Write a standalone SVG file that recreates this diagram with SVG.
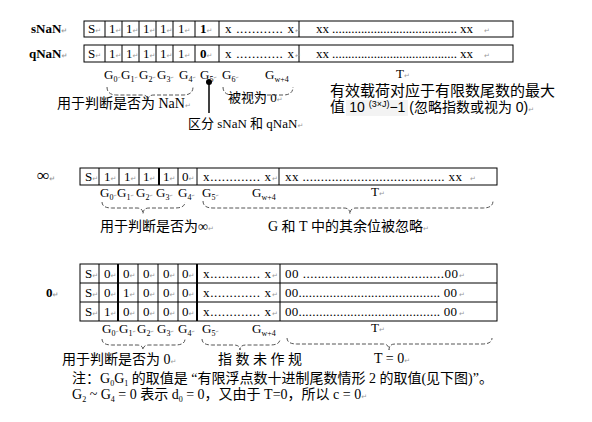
<svg xmlns="http://www.w3.org/2000/svg" width="592" height="422" viewBox="0 0 592 422">
<style>
.box{fill:#fff;stroke:#000;stroke-width:1}
.ln{stroke:#000;stroke-width:1}
.thk{stroke:#000;stroke-width:2}
.c{font-family:"Liberation Serif",serif;font-size:13px;fill:#000}
.b{font-weight:bold}
.mk{font-family:"DejaVu Sans",sans-serif;font-size:7px;fill:#999}
.gm{font-family:"DejaVu Sans",sans-serif;font-size:4px;fill:#999}
.sub{font-size:8px}
.cj{font-family:"Liberation Serif","Noto Sans CJK SC",sans-serif;font-size:14px;fill:#000}
.cs{font-family:"Liberation Sans","Noto Sans CJK SC",sans-serif;font-size:15px;fill:#000}
.br{fill:none;stroke:#555;stroke-width:1;stroke-dasharray:4 2}
</style>
<rect width="592" height="422" fill="#fff"/>

<g id="label-snan"><text x="31" y="33" class="c b">sNaN<tspan class="mk">↵</tspan></text></g>
<g id="label-qnan"><text x="29" y="58" class="c b">qNaN<tspan class="mk">↵</tspan></text></g>
<g id="label-inf"><text x="37" y="181" class="c b" style="font-size:17px">∞<tspan class="mk">↵</tspan></text></g>
<g id="label-zero"><text x="46" y="297" class="c b">0<tspan class="mk">↵</tspan></text></g>

<g id="row-snan">
<rect x="84" y="21" width="429" height="16" class="box"/>
<path class="ln" d="M105 21V37M122 21V37M139 21V37M156 21V37M173 21V37M195 21V37M219 21V37M299 21V37"/>
<text y="33" class="c"><tspan x="88">S</tspan><tspan class="mk">↵</tspan><tspan x="109">1</tspan><tspan class="mk">↵</tspan><tspan x="126">1</tspan><tspan class="mk">↵</tspan><tspan x="143">1</tspan><tspan class="mk">↵</tspan><tspan x="160">1</tspan><tspan class="mk">↵</tspan><tspan x="178">1</tspan><tspan class="mk">↵</tspan><tspan x="200" class="b">1</tspan><tspan class="mk">↵</tspan></text>
<text x="225" y="33" class="c" textLength="69" lengthAdjust="spacing">x ............ x</text><text x="295" y="33" class="mk">↵</text>
<text x="316" y="33" class="c" textLength="157" lengthAdjust="spacing">xx ....................................... xx</text><text x="484" y="33" class="mk">↵</text>
</g>

<g id="row-qnan">
<rect x="84" y="45" width="429" height="17" class="box"/>
<path class="ln" d="M105 45V62M122 45V62M139 45V62M156 45V62M173 45V62M195 45V62M219 45V62M299 45V62"/>
<text y="58" class="c"><tspan x="88">S</tspan><tspan class="mk">↵</tspan><tspan x="109">1</tspan><tspan class="mk">↵</tspan><tspan x="126">1</tspan><tspan class="mk">↵</tspan><tspan x="143">1</tspan><tspan class="mk">↵</tspan><tspan x="160">1</tspan><tspan class="mk">↵</tspan><tspan x="178">1</tspan><tspan class="mk">↵</tspan><tspan x="200" class="b">0</tspan><tspan class="mk">↵</tspan></text>
<text x="225" y="58" class="c" textLength="69" lengthAdjust="spacing">x ............ x</text><text x="295" y="58" class="mk">↵</text>
<text x="316" y="58" class="c" textLength="157" lengthAdjust="spacing">xx ....................................... xx</text><text x="484" y="58" class="mk">↵</text>
</g>

<g id="glabels-nan">
<text y="79" class="c"><tspan x="104">G</tspan><tspan class="sub" dy="3">0</tspan><tspan class="gm" dy="-3">↵</tspan><tspan x="121">G</tspan><tspan class="sub" dy="3">1</tspan><tspan class="gm" dy="-3">↵</tspan><tspan x="139">G</tspan><tspan class="sub" dy="3">2</tspan><tspan class="gm" dy="-3">↵</tspan><tspan x="157">G</tspan><tspan class="sub" dy="3">3</tspan><tspan class="gm" dy="-3">↵</tspan><tspan x="179">G</tspan><tspan class="sub" dy="3">4</tspan><tspan class="gm" dy="-3">↵</tspan><tspan x="200">G</tspan><tspan class="sub" dy="3">5</tspan><tspan class="gm" dy="-3">↵</tspan><tspan x="222">G</tspan><tspan class="sub" dy="3">6</tspan><tspan class="gm" dy="-3">↵</tspan></text>
<text x="265" y="79" class="c">G<tspan class="sub" dy="3">w+4</tspan></text>
<text x="396" y="78" class="c">T<tspan class="mk">↵</tspan></text>
</g>

<g id="connectors">
<path class="br" d="M107 87Q107 95 117 95L142 95Q148 95 148 100Q148 95 154 95L183 95Q193 95 193 87"/>
<path class="br" d="M223 87Q223 95 233 95L251 95Q257 95 257 100Q257 95 263 95L283 95Q293 95 293 87"/>
<line x1="209" y1="82" x2="209" y2="113" stroke="#000" stroke-width="1.5"/>
<circle cx="209" cy="82" r="3" fill="#000"/>
<path class="br" d="M102 202Q102 208 112 208L137 208Q143 208 143 214Q143 208 149 208L175 208Q185 208 185 202"/>
<path class="br" d="M203 201Q203 208 213 208L344 208Q350 208 350 214Q350 208 356 208L483 208Q493 208 493 201"/>
<path class="br" d="M102 339Q102 345 112 345L137 345Q143 345 143 350Q143 345 149 345L175 345Q185 345 185 339"/>
<path class="br" d="M202 339Q202 345 212 345L234 345Q240 345 240 350Q240 345 246 345L270 345Q280 345 280 339"/>
<path class="br" d="M287 338Q287 344 297 344L383 344Q389 344 389 350Q389 344 395 344L482 344Q492 344 492 338"/>
</g>

<g id="note-nan">
<text x="57" y="108" class="cj">用于判断是否为 NaN<tspan class="mk">↵</tspan></text>
<text x="228" y="102" class="cj" style="font-size:13px">被视为 0<tspan class="mk">↵</tspan></text>
<text x="188" y="128" class="cj" style="font-size:13px">区分 sNaN 和 qNaN<tspan class="mk">↵</tspan></text>
</g>

<g id="note-payload">
<text x="330" y="96" class="cs">有效载荷对应于有限数尾数的最大</text>
<rect x="346" y="100" width="62" height="16" fill="#f3f3f3"/>
<text x="330" y="112" class="cs">值 <tspan font-size="14">10 </tspan><tspan font-size="9" dy="-5">(3×J)</tspan><tspan font-size="14" dy="5">−1 (忽略指数或视为 0)</tspan><tspan class="mk">↵</tspan></text>
</g>

<g id="row-inf">
<rect x="80" y="168" width="417" height="17" class="box"/>
<path class="ln" d="M99 168V185M119 168V185M139 168V185M178 168V185M197 168V185M279 168V185"/>
<path class="thk" d="M159 168V185"/>
<text y="181" class="c"><tspan x="85">S</tspan><tspan class="mk">↵</tspan><tspan x="104">1</tspan><tspan class="mk">↵</tspan><tspan x="124">1</tspan><tspan class="mk">↵</tspan><tspan x="143">1</tspan><tspan class="mk">↵</tspan><tspan x="163">1</tspan><tspan class="mk">↵</tspan><tspan x="182">0</tspan><tspan class="mk">↵</tspan></text>
<text x="203" y="181" class="c" textLength="68" lengthAdjust="spacing">x............. x</text><text x="272" y="181" class="mk">↵</text>
<text x="285" y="181" class="c" textLength="177" lengthAdjust="spacing">xx ....................................... xx</text><text x="470" y="181" class="mk">↵</text>
</g>

<g id="glabels-inf">
<text y="197" class="c"><tspan x="100">G</tspan><tspan class="sub" dy="3">0</tspan><tspan class="gm" dy="-3">↵</tspan><tspan x="117">G</tspan><tspan class="sub" dy="3">1</tspan><tspan class="gm" dy="-3">↵</tspan><tspan x="136">G</tspan><tspan class="sub" dy="3">2</tspan><tspan class="gm" dy="-3">↵</tspan><tspan x="156">G</tspan><tspan class="sub" dy="3">3</tspan><tspan class="gm" dy="-3">↵</tspan><tspan x="178">G</tspan><tspan class="sub" dy="3">4</tspan><tspan class="gm" dy="-3">↵</tspan><tspan x="202">G</tspan><tspan class="sub" dy="3">5</tspan><tspan class="gm" dy="-3">↵</tspan></text>
<text x="252" y="197" class="c">G<tspan class="sub" dy="3">w+4</tspan></text>
<text x="371" y="196" class="c">T<tspan class="mk">↵</tspan></text>
</g>

<g id="note-inf">
<text x="100" y="231" class="cj">用于判断是否为∞<tspan class="mk">↵</tspan></text>
<text x="268" y="231" class="cj">G 和 T 中的其余位被忽略<tspan class="mk">↵</tspan></text>
</g>

<g id="rows-zero">
<rect x="80" y="264" width="417" height="57" class="box"/>
<path class="ln" d="M80 283H497M80 302H497M99 264V321M138 264V321M158 264V321M178 264V321M280 264V321"/>
<path class="thk" d="M118 264V321M197 264V321"/>
<text y="278" class="c"><tspan x="85">S</tspan><tspan class="mk">↵</tspan><tspan x="104">0</tspan><tspan class="mk">↵</tspan><tspan x="123">0</tspan><tspan class="mk">↵</tspan><tspan x="143">0</tspan><tspan class="mk">↵</tspan><tspan x="163">0</tspan><tspan class="mk">↵</tspan><tspan x="182">0</tspan><tspan class="mk">↵</tspan></text>
<text y="297" class="c"><tspan x="85">S</tspan><tspan class="mk">↵</tspan><tspan x="104">0</tspan><tspan class="mk">↵</tspan><tspan x="123">1</tspan><tspan class="mk">↵</tspan><tspan x="143">0</tspan><tspan class="mk">↵</tspan><tspan x="163">0</tspan><tspan class="mk">↵</tspan><tspan x="182">0</tspan><tspan class="mk">↵</tspan></text>
<text y="316" class="c"><tspan x="85">S</tspan><tspan class="mk">↵</tspan><tspan x="104">1</tspan><tspan class="mk">↵</tspan><tspan x="123">0</tspan><tspan class="mk">↵</tspan><tspan x="143">0</tspan><tspan class="mk">↵</tspan><tspan x="163">0</tspan><tspan class="mk">↵</tspan><tspan x="182">0</tspan><tspan class="mk">↵</tspan></text>
<text x="203" y="278" class="c" textLength="68" lengthAdjust="spacing">x............. x</text><text x="272" y="278" class="mk">↵</text>
<text x="203" y="297" class="c" textLength="68" lengthAdjust="spacing">x............. x</text><text x="272" y="297" class="mk">↵</text>
<text x="203" y="316" class="c" textLength="68" lengthAdjust="spacing">x............. x</text><text x="272" y="316" class="mk">↵</text>
<text x="285" y="278" class="c" textLength="173" lengthAdjust="spacing">00 ......................................00</text><text x="459" y="278" class="mk">↵</text>
<text x="285" y="297" class="c" textLength="172" lengthAdjust="spacing">00......................................... 00</text><text x="459" y="297" class="mk">↵</text>
<text x="285" y="316" class="c" textLength="172" lengthAdjust="spacing">00......................................... 00</text><text x="459" y="316" class="mk">↵</text>
</g>

<g id="glabels-zero">
<text y="333" class="c"><tspan x="102">G</tspan><tspan class="sub" dy="3">0</tspan><tspan class="gm" dy="-3">↵</tspan><tspan x="119">G</tspan><tspan class="sub" dy="3">1</tspan><tspan class="gm" dy="-3">↵</tspan><tspan x="137">G</tspan><tspan class="sub" dy="3">2</tspan><tspan class="gm" dy="-3">↵</tspan><tspan x="157">G</tspan><tspan class="sub" dy="3">3</tspan><tspan class="gm" dy="-3">↵</tspan><tspan x="178">G</tspan><tspan class="sub" dy="3">4</tspan><tspan class="gm" dy="-3">↵</tspan><tspan x="202">G</tspan><tspan class="sub" dy="3">5</tspan><tspan class="gm" dy="-3">↵</tspan></text>
<text x="252" y="333" class="c">G<tspan class="sub" dy="3">w+4</tspan></text>
<text x="371" y="332" class="c">T<tspan class="mk">↵</tspan></text>
</g>

<g id="note-zero">
<text x="62" y="364" class="cj">用于判断是否为 0<tspan class="mk">↵</tspan></text>
<text x="218" y="364" class="cj">指 数 未 作 规</text>
<text x="374" y="363" class="cj">T = 0<tspan class="mk">↵</tspan></text>
</g>

<g id="footnote">
<text x="72" y="383" class="cj">注：G<tspan class="sub" dy="3">0</tspan><tspan dy="-3">G</tspan><tspan class="sub" dy="3">1</tspan><tspan dy="-3"> 的取值是 “有限浮点数十进制尾数情形 2 的取值(见下图)”。</tspan></text>
<text x="72" y="399" class="cj">G<tspan class="sub" dy="3">2</tspan><tspan dy="-3"> ~ G</tspan><tspan class="sub" dy="3">4</tspan><tspan dy="-3"> = 0 表示 d</tspan><tspan class="sub" dy="3">0</tspan><tspan dy="-3"> = 0，又由于 T=0，所以 c = 0</tspan><tspan class="mk">↵</tspan></text>
</g>
</svg>
